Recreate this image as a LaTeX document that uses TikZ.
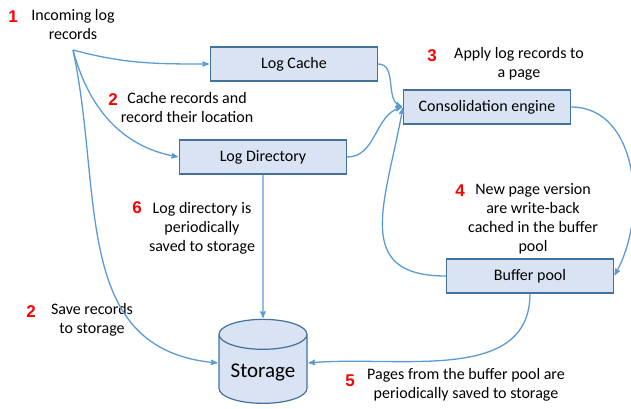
\documentclass[tikz,border=0pt]{standalone}
\usepackage{fontspec}
\setmainfont{Carlito}
\newfontfamily\numfont{Liberation Sans}
\usepackage{tikz}
\usetikzlibrary{arrows,shapes.geometric,positioning}

\definecolor{boxfill}{HTML}{DAE3F3}
\definecolor{boxline}{HTML}{41719C}
\definecolor{flow}{HTML}{5B9BD5}

\begin{document}
\begin{tikzpicture}[x=1pt,y=1pt,>=stealth',shorten >=1pt,
  font=\fontsize{16}{19}\selectfont,
  box/.style={draw=boxline,fill=boxfill,line width=1.2pt,minimum width=167pt,minimum height=34pt},
  num/.style={text=red,font=\fontsize{17}{17}\numfont\bfseries},
  txt/.style={align=center},
  flowline/.style={->,draw=flow,line width=1.3pt}]
  \useasboundingbox (0,0) rectangle (631,-408);
  % Boxes
  \node[box] (cache) at (294,-64) {Log Cache};
  \node[box] (dir) at (263,-157) {Log Directory};
  \node[box] (cons) at (487,-107) {Consolidation engine};
  \node[box] (buf) at (530,-276) {Buffer pool};
  \node[draw=boxline,fill=boxfill,line width=1.2pt,cylinder,shape border rotate=90,aspect=0.42,
    minimum width=88pt,minimum height=84pt,font=\fontsize{21}{21}\selectfont] (stor) at (263,-372) {Storage};
  % Labels
  \node[num] (n1) at (13,-17) {1};
  \node[txt] (inc) at (73,-24) {Incoming log\\records};
  \coordinate (src) at (73,-50);
  \node[num] (n2a) at (113,-100) {2};
  \node[txt] (cachetxt) at (187,-107) {Cache records and\\record their location};
  \node[num] (n3) at (432,-56) {3};
  \node[txt] (applytxt) at (519,-64) {Apply log records to\\a page};
  \node[num] (n4) at (460,-191) {4};
  \node[txt] (wbtxt) at (533,-219) {New page version\\are write-back\\cached in the buffer\\pool};
  \node[num] (n6) at (137,-208) {6};
  \node[txt] (dirtxt) at (202,-228) {Log directory is\\periodically\\saved to storage};
  \node[num] (n2b) at (31,-312) {2};
  \node[txt] (savetxt) at (92,-320) {Save records\\to storage};
  \node[num] (n5) at (350,-381) {5};
  \node[txt] (pagetxt) at (466,-385) {Pages from the buffer pool are\\periodically saved to storage};
  % Flows
  \draw[flowline] (src) to[out=-15,in=180] (cache.west);
  \draw[flowline] (src) to[out=-75,in=170] (dir.west);
  \draw[flowline] (src) to[out=-78,in=175,looseness=1.1] ([yshift=9pt]stor.west);
  \draw[flowline] (cache.east) to[out=0,in=160] (cons.west);
  \draw[flowline] (dir.east) to[out=0,in=195] (cons.west);
  \draw[flowline] (buf.west) to[out=180,in=-100,looseness=1.4] (cons.west);
  \draw[flowline] (cons.east) to[out=0,in=60] (buf.east);
  \draw[flowline] (buf.south) to[out=-90,in=5] ([yshift=9pt]stor.east);
  \draw[flowline] (dir.south) -- (stor.north);
\end{tikzpicture}
\end{document}
